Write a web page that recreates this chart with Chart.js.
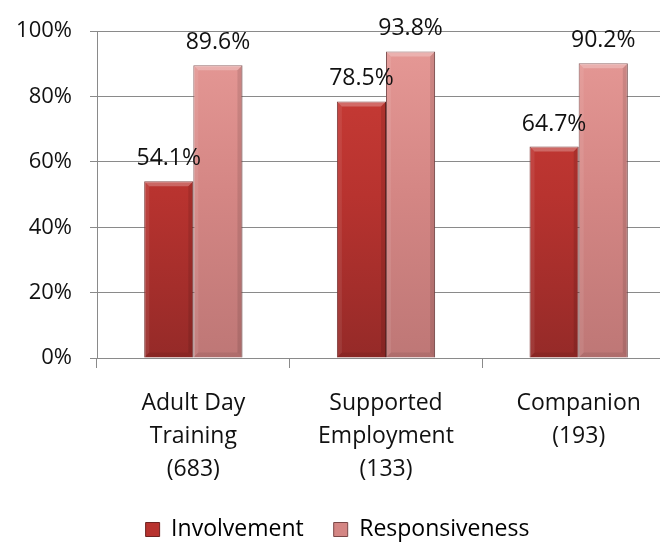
<!DOCTYPE html>
<html>
<head>
<meta charset="utf-8">
<script src="https://cdn.jsdelivr.net/npm/chart.js@4"></script>
<style>
  html, body { margin: 0; padding: 0; background: #fff; overflow: hidden; }
  #wrap { width: 675px; height: 546px; position: relative; }
</style>
</head>
<body>
<div id="wrap"><canvas id="chart"></canvas></div>
<script>
// Survey results per service type (number of respondents in brackets)
const categories = [
    ['Adult Day', 'Training', '(683)'],
    ['Supported', 'Employment', '(133)'],
    ['Companion', '(193)']
];
const involvement = [54.1, 78.5, 64.7];
const responsiveness = [89.6, 93.8, 90.2];
const yTicks = [0, 20, 40, 60, 80, 100];

const FONT = "'Open Sans', 'Lato', sans-serif";
const BOTTOM_PAD = -5;

// Vertical gradient across the plot height
function barGradient(ctx, stops) {
    const chart = ctx.chart;
    const area = chart.chartArea;
    if (!area) return stops[1];
    const g = chart.ctx.createLinearGradient(0, area.top, 0, area.bottom);
    g.addColorStop(0, stops[0]);
    g.addColorStop(0.5, stops[1]);
    g.addColorStop(1, stops[2]);
    return g;
}

const redStops = ['#cc3d37', '#b8332f', '#952a28'];
const pinkStops = ['#e79a97', '#d48684', '#be7776'];

// Bevelled edges on every bar
const bevelPlugin = {
    id: 'bevel',
    afterDatasetsDraw(chart) {
        const ctx = chart.ctx;
        chart.data.datasets.forEach((ds, di) => {
            const meta = chart.getDatasetMeta(di);
            meta.data.forEach(bar => {
                const left = bar.x - bar.width / 2;
                const right = bar.x + bar.width / 2;
                const top = bar.y;
                const bottom = bar.base;
                const b = 5;
                const face = (pts, color) => {
                    ctx.fillStyle = color;
                    ctx.beginPath();
                    ctx.moveTo(pts[0][0], pts[0][1]);
                    pts.slice(1).forEach(p => ctx.lineTo(p[0], p[1]));
                    ctx.closePath();
                    ctx.fill();
                };
                ctx.save();
                face([[left, top], [right, top], [right - b, top + b], [left + b, top + b]], 'rgba(255,255,255,0.25)');
                face([[left, top], [left + b, top + b], [left + b, bottom - b], [left, bottom]], 'rgba(255,255,255,0.08)');
                face([[right, top], [right - b, top + b], [right - b, bottom - b], [right, bottom]], 'rgba(0,0,0,0.10)');
                face([[left, bottom], [left + b, bottom - b], [right - b, bottom - b], [right, bottom]], 'rgba(0,0,0,0.08)');
                ctx.restore();
            });
        });
    }
};

// Percentage value above each bar
const valueLabels = {
    id: 'valueLabels',
    afterDatasetsDraw(chart) {
        const ctx = chart.ctx;
        ctx.save();
        ctx.font = '23px ' + FONT;
        ctx.fillStyle = '#111';
        ctx.textAlign = 'center';
        ctx.textBaseline = 'alphabetic';
        chart.data.datasets.forEach((ds, di) => {
            chart.getDatasetMeta(di).data.forEach((bar, i) => {
                ctx.fillText(ds.data[i].toFixed(1) + '%', bar.x, bar.y - 16);
            });
        });
        ctx.restore();
    }
};

new Chart(document.getElementById('chart'), {
    type: 'bar',
    data: {
        labels: categories,
        datasets: [
            {
                label: 'Involvement',
                data: involvement,
                backgroundColor: ctx => barGradient(ctx, redStops),
                borderColor: '#6e2322',
                borderWidth: 1,
                categoryPercentage: 0.51,
                barPercentage: 1.0
            },
            {
                label: 'Responsiveness',
                data: responsiveness,
                backgroundColor: ctx => barGradient(ctx, pinkStops),
                borderColor: '#7a4747',
                borderWidth: 1,
                categoryPercentage: 0.51,
                barPercentage: 1.0
            }
        ]
    },
    options: {
        responsive: true,
        maintainAspectRatio: false,
        animation: false,
        layout: {
            padding: { top: 29, right: 0, bottom: BOTTOM_PAD, left: 0 }
        },
        plugins: {
            legend: {
                position: 'bottom',
                labels: {
                    boxWidth: 14,
                    boxHeight: 14,
                    padding: 30,
                    color: '#111',
                    font: { size: 23, family: FONT },
                    generateLabels() {
                        return [
                            { text: 'Involvement', fillStyle: '#b8332f', strokeStyle: '#6e2322', lineWidth: 1, datasetIndex: 0 },
                            { text: 'Responsiveness', fillStyle: '#d48684', strokeStyle: '#7a4747', lineWidth: 1, datasetIndex: 1 }
                        ];
                    }
                }
            },
            tooltip: { enabled: false }
        },
        scales: {
            y: {
                min: 0,
                max: 100,
                afterFit(scale) { scale.width = 97; },
                afterBuildTicks(scale) {
                    scale.ticks = yTicks.map(v => ({ value: v }));
                },
                ticks: {
                    padding: 18,
                    color: '#111',
                    font: { size: 22, family: FONT },
                    callback: v => v + '%'
                },
                grid: {
                    color: '#8a8a8a',
                    lineWidth: 1,
                    tickLength: 7
                },
                border: { color: '#8a8a8a', width: 1 }
            },
            x: {
                afterFit(scale) {
                    const chart = scale.chart;
                    const legendH = chart.legend ? chart.legend.height : 80;
                    scale.height = 546 - BOTTOM_PAD - legendH - 358;
                },
                ticks: {
                    padding: 19,
                    color: '#111',
                    font: { size: 23, family: FONT, lineHeight: 1.43 }
                },
                grid: {
                    offset: true,
                    drawOnChartArea: false,
                    color: '#8a8a8a',
                    tickLength: 10
                },
                border: { color: '#8a8a8a', width: 1 }
            }
        }
    },
    plugins: [bevelPlugin, valueLabels]
});
</script>
</body>
</html>
